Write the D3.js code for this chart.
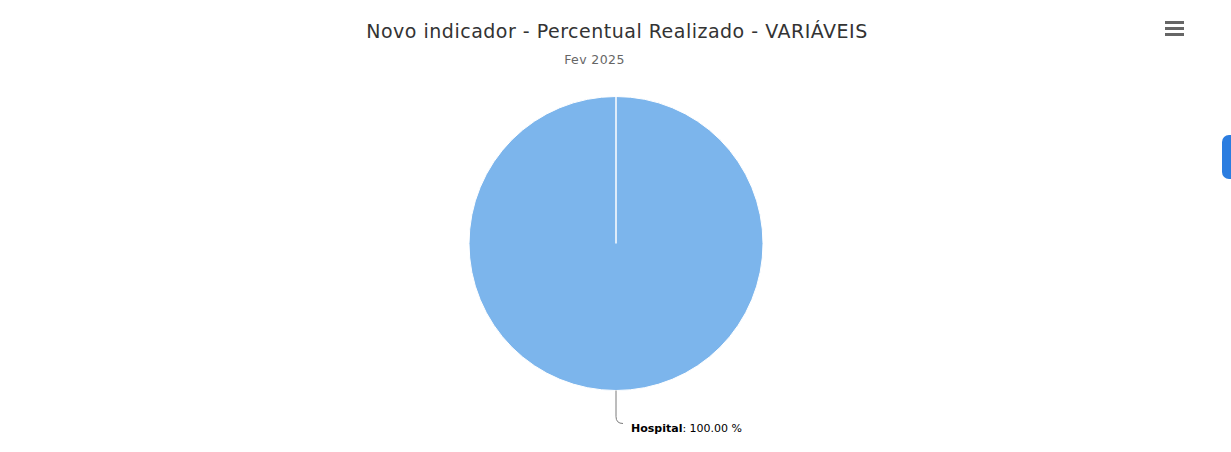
<!DOCTYPE html>
<html><head><meta charset="utf-8">
<script src="https://cdn.jsdelivr.net/npm/d3@7"></script>
<style>html,body{margin:0;padding:0;background:#fff;overflow:hidden}svg{display:block;font-family:"DejaVu Sans",sans-serif}</style>
</head><body><svg id="c" width="1231" height="452"></svg>
<script>
const categories = ["Hospital"];
const values = [100];
const titleText = "Novo indicador - Percentual Realizado - VARIÁVEIS";
const subtitleText = "Fev 2025";

const svg = d3.select("#c");
const cx = 616, cy = 243.5, R = 147;

svg.append("text").attr("x", 617).attr("y", 38).attr("text-anchor", "middle")
  .attr("font-size", 19).attr("letter-spacing", 0.5).attr("fill", "#333").text(titleText);
svg.append("text").attr("x", 594.5).attr("y", 64).attr("text-anchor", "middle")
  .attr("font-size", 12.5).attr("letter-spacing", 0.4).attr("fill", "#666").text(subtitleText);

// menu icon
const menu = svg.append("g").attr("stroke", "#666").attr("stroke-width", 3);
[22.5, 28.5, 34.5].forEach(y => menu.append("line").attr("x1", 1165).attr("x2", 1184).attr("y1", y).attr("y2", y));

// blue side tab
svg.append("rect").attr("x", 1222).attr("y", 135).attr("width", 20).attr("height", 44).attr("rx", 7).attr("fill", "#2b7de0");

const total = d3.sum(values);
const pie = d3.pie().sort(null).value(d => d.v);
const data = pie(categories.map((c, i) => ({ c, v: values[i] })));
const arc = d3.arc().innerRadius(0).outerRadius(R);
const g = svg.append("g").attr("transform", `translate(${cx},${cy})`);
g.selectAll("path.s").data(data).join("path").attr("class", "s")
  .attr("d", arc).attr("fill", "#7cb5ec").attr("stroke", "#fff").attr("stroke-width", 1);
data.forEach(d => {
  const p = d3.pointRadial(d.startAngle, R);
  g.append("line").attr("x1", 0).attr("y1", 0).attr("x2", p[0]).attr("y2", p[1])
    .attr("stroke", "#fff").attr("stroke-width", 1.5);
});

data.forEach(d => {
  const mid = (d.startAngle + d.endAngle) / 2;
  const p = d3.pointRadial(mid, R);
  const x0 = p[0], y0 = p[1];
  const path = d3.path();
  path.moveTo(x0, y0);
  path.lineTo(x0, y0 + 26);
  path.quadraticCurveTo(x0, y0 + 33, x0 + 7, y0 + 33);
  g.append("path").attr("d", path.toString()).attr("fill", "none").attr("stroke", "#7a7a7a").attr("stroke-width", 1);
  const t = g.append("text").attr("x", x0 + 15).attr("y", y0 + 41).attr("font-size", 11).attr("fill", "#000");
  t.append("tspan").attr("font-weight", "bold").text(d.data.c);
  t.append("tspan").text(": " + (d.data.v / total * 100).toFixed(2) + " %");
});
</script></body></html>
